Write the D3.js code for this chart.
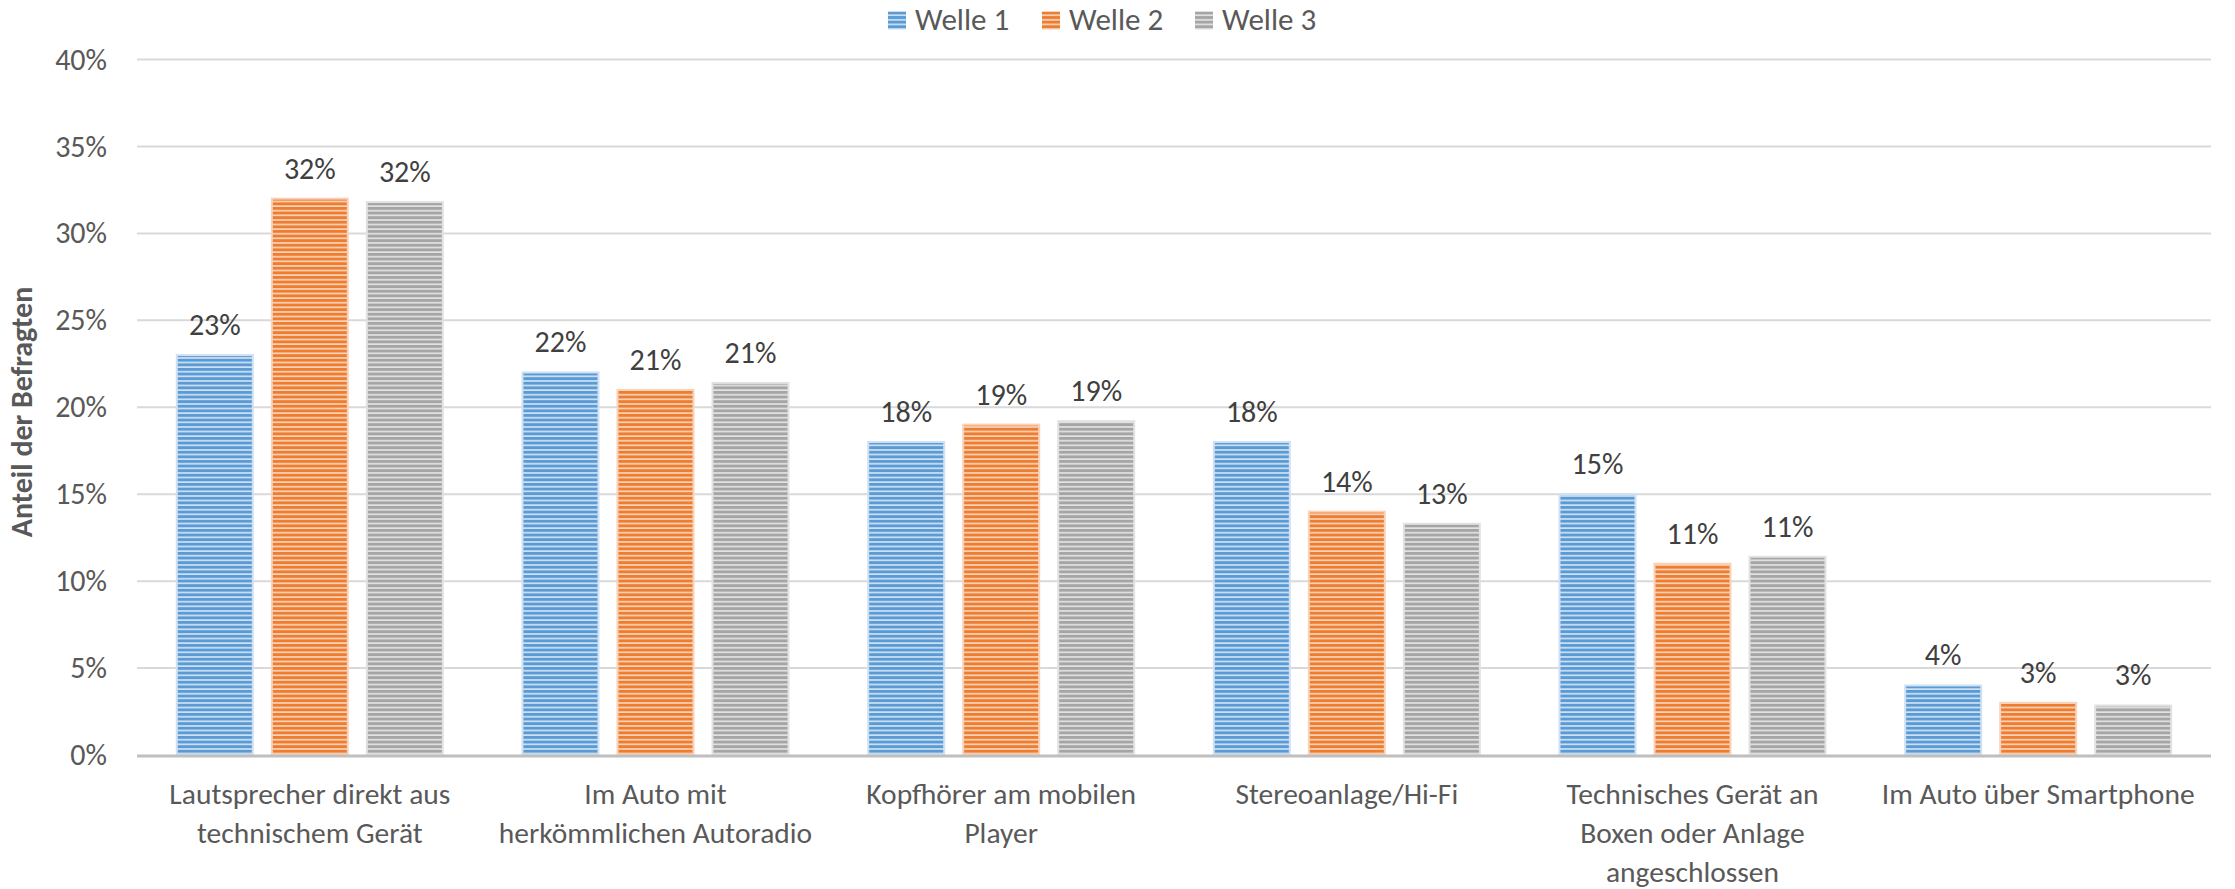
<!DOCTYPE html>
<html>
<head>
<meta charset="utf-8">
<script src="https://cdn.jsdelivr.net/npm/d3@7"></script>
<style>
  html, body { margin: 0; padding: 0; background: #ffffff; }
  svg { display: block; }
  text { font-family: Carlito, Calibri, Lato, "Open Sans", sans-serif; }
</style>
</head>
<body>
<svg id="chart" width="2235" height="889"></svg>
<script>
// ---- data ----
const categories = [
  "Lautsprecher direkt aus technischem Gerät",
  "Im Auto mit herkömmlichen Autoradio",
  "Kopfhörer am mobilen Player",
  "Stereoanlage/Hi-Fi",
  "Technisches Gerät an Boxen oder Anlage angeschlossen",
  "Im Auto über Smartphone"
];
const categoryLines = [
  ["Lautsprecher direkt aus", "technischem Gerät"],
  ["Im Auto mit", "herkömmlichen Autoradio"],
  ["Kopfhörer am mobilen", "Player"],
  ["Stereoanlage/Hi-Fi"],
  ["Technisches Gerät an", "Boxen oder Anlage", "angeschlossen"],
  ["Im Auto über Smartphone"]
];
const seriesNames = ["Welle 1", "Welle 2", "Welle 3"];
const welle1 = [0.230, 0.220, 0.180, 0.180, 0.150, 0.040];
const welle2 = [0.320, 0.210, 0.190, 0.140, 0.110, 0.030];
const welle3 = [0.318, 0.214, 0.192, 0.133, 0.114, 0.0285];
const seriesValues = [welle1, welle2, welle3];
const yTicks = [0, 0.05, 0.10, 0.15, 0.20, 0.25, 0.30, 0.35, 0.40];
const yTitle = "Anteil der Befragten";

const colors = ["#5B9BD5", "#ED7D31", "#A5A5A5"];
const lightColors = ["#cfe1f2", "#f9d3b9", "#e2e2e2"];
const FONT = 'Carlito, Calibri, Lato, "Open Sans", sans-serif';

// ---- layout ----
const svg = d3.select("#chart");
const plot = { left: 137, right: 2211, top: 59.5, bottom: 755 };

const x0 = d3.scaleBand().domain(categories).range([plot.left, plot.right]).padding(0);
const bw = x0.bandwidth();
const groupOuter = bw * 0.1123;
const x1 = d3.scaleBand().domain(seriesNames).range([groupOuter, bw - groupOuter]).paddingInner(17 / 95).paddingOuter(0);
const y = d3.scaleLinear().domain([0, 0.40]).range([plot.bottom, plot.top]);

// patterns
const defs = svg.append("defs");
seriesNames.forEach((s, i) => {
  const p = defs.append("pattern")
    .attr("id", "pat" + i)
    .attr("patternUnits", "userSpaceOnUse")
    .attr("width", 8).attr("height", 4.6);
  p.append("rect").attr("width", 8).attr("height", 4.6).attr("fill", lightColors[i]);
  p.append("rect").attr("y", 0).attr("width", 8).attr("height", 2.9).attr("fill", colors[i]);
});

// gridlines
svg.append("g").selectAll("line").data(yTicks.filter(t => t > 0)).join("line")
  .attr("x1", plot.left).attr("x2", plot.right)
  .attr("y1", d => y(d)).attr("y2", d => y(d))
  .attr("stroke", "#d9d9d9").attr("stroke-width", 2);

// y axis labels
const yAxis = d3.axisLeft(y).tickValues(yTicks).tickFormat(d3.format(".0%")).tickSize(0).tickPadding(0);
const yg = svg.append("g").attr("transform", `translate(${107},0)`).call(yAxis);
yg.select(".domain").remove();
yg.attr("font-family", null).attr("font-size", null);
yg.selectAll("text").attr("font-size", 30).attr("fill", "#595959")
  .style("font-family", FONT);

// bars
const groups = svg.append("g").selectAll("g").data(categories).join("g")
  .attr("transform", d => `translate(${x0(d)},0)`);

groups.selectAll("rect").data((c, ci) => seriesNames.map((s, si) => ({ s, si, v: seriesValues[si][ci] })))
  .join("rect")
  .attr("x", d => x1(d.s) + 1)
  .attr("width", x1.bandwidth() - 2)
  .attr("y", d => y(d.v))
  .attr("height", d => y(0) - y(d.v))
  .attr("fill", d => `url(#pat${d.si})`)
  .attr("stroke", d => lightColors[d.si])
  .attr("stroke-width", 2);

// data labels
groups.selectAll("text.dl").data((c, ci) => seriesNames.map((s, si) => ({ s, si, v: seriesValues[si][ci] })))
  .join("text").attr("class", "dl")
  .attr("x", d => x1(d.s) + x1.bandwidth() / 2)
  .attr("y", d => y(d.v) - 20)
  .attr("text-anchor", "middle")
  .attr("font-size", 30)
  .attr("fill", "#404040")
  .text(d => d3.format(".0%")(d.v));

// x axis line
svg.append("line")
  .attr("x1", plot.left).attr("x2", plot.right)
  .attr("y1", plot.bottom + 1).attr("y2", plot.bottom + 1)
  .attr("stroke", "#bfbfbf").attr("stroke-width", 3);

// x labels
const xl = svg.append("g").selectAll("text").data(categories).join("text")
  .attr("x", d => x0(d) + bw / 2)
  .attr("y", 804)
  .attr("text-anchor", "middle")
  .attr("font-size", 29.5)
  .attr("fill", "#595959");
xl.each(function (d, i) {
  const t = d3.select(this);
  categoryLines[i].forEach((line, li) => {
    t.append("tspan").attr("x", x0(d) + bw / 2).attr("dy", li === 0 ? 0 : 39).text(line);
  });
});

// y title (sized to match the reference's span)
const yt = svg.append("text")
  .attr("transform", `translate(32,412) rotate(-90)`)
  .attr("text-anchor", "middle")
  .style("font-size", "25px")
  .style("font-weight", "bold")
  .attr("fill", "#595959")
  .text(yTitle);
const len = yt.node().getComputedTextLength();
if (len > 0) {
  const fs = Math.max(20, Math.min(30, 25 * 275 / len));
  yt.style("font-size", fs + "px");
}

// legend
const legendX = [888, 1042, 1195];
const lg = svg.append("g").selectAll("g").data(seriesNames).join("g")
  .attr("transform", (d, i) => `translate(${legendX[i]},11.5)`);
lg.append("rect").attr("width", 18).attr("height", 18).attr("fill", (d, i) => `url(#pat${i})`);
lg.append("text").attr("x", 27).attr("y", 18.5).attr("font-size", 31).attr("fill", "#595959").text(d => d);
</script>
</body>
</html>
